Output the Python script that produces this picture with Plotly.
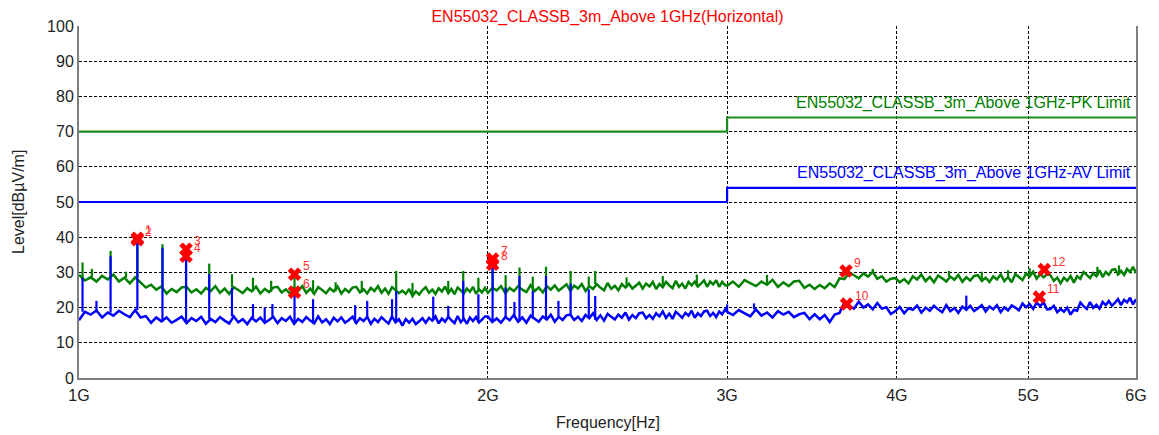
import numpy as np
import plotly.graph_objects as go

# ---------------- data ----------------
title_text = "EN55032_CLASSB_3m_Above 1GHz(Horizontal)"
tick_freq_hz = [1e9, 2e9, 3e9, 4e9, 5e9, 6e9]
tick_text = ["1G", "2G", "3G", "4G", "5G", "6G"]

# limit lines (frequency MHz, level)
limit_f_mhz = [1000, 3000, 3000, 6000]
pk_limit = [70, 70, 74, 74]
av_limit = [50, 50, 54, 54]
pk_limit_name = "EN55032_CLASSB_3m_Above 1GHz-PK Limit"
av_limit_name = "EN55032_CLASSB_3m_Above 1GHz-AV Limit"

# sweep segments: (start MHz, step MHz)
seg_a = (1000, 10)
seg_b = (2000, 15)
seg_c = (3000, 30)

pk_a = [29.3, 27.7, 28.6, 27.4, 29.0, 28.0, 29.4, 27.4, 28.5, 26.9,
        28.6, 27.2, 25.7, 26.5, 25.1, 26.0, 24.0, 25.3, 24.4, 25.7,
        25.9, 24.3, 25.2, 24.0, 25.6, 24.7, 26.1, 24.2, 25.4, 23.9,
        25.8, 25.0, 24.1, 25.5, 24.6, 26.0, 24.0, 25.3, 24.4, 25.7,
        25.9, 24.3, 25.2, 24.0, 25.6, 24.7, 26.1, 24.2, 25.4, 23.9,
        25.8, 25.0, 24.1, 25.5, 24.6, 26.0, 24.0, 25.3, 24.4, 25.7,
        25.9, 24.3, 25.2, 24.0, 25.6, 24.7, 26.1, 24.2, 25.4, 23.9,
        25.8, 25.0, 24.1, 24.8, 23.9, 25.3, 23.3, 24.6, 23.7, 25.0,
        25.8, 24.2, 25.1, 23.9, 25.5, 24.6, 26.0, 24.1, 25.3, 23.8,
        25.7, 24.9, 24.0, 25.4, 24.5, 25.9, 23.9, 25.2, 24.3, 25.6]
pk_b = [24.2, 25.6, 24.9, 26.1, 24.1, 25.6, 24.7, 26.1, 25.1, 24.4,
        26.4, 24.7, 25.7, 24.3, 26.1, 25.1, 26.3, 24.8, 25.6, 26.6,
        24.8, 26.2, 25.4, 26.7, 24.7, 26.1, 25.3, 26.7, 25.7, 24.9,
        27.0, 25.3, 26.2, 24.9, 26.7, 25.7, 26.8, 25.4, 26.2, 27.1,
        25.4, 26.8, 26.0, 27.3, 25.3, 26.7, 25.8, 27.3, 26.3, 25.5,
        27.6, 25.9, 26.8, 25.4, 27.3, 26.3, 27.4, 26.0, 26.8, 27.7,
        25.9, 27.4, 26.6, 27.8, 25.9, 27.3, 26.4]
pk_c = [26.2, 27.4, 25.9, 27.8, 27.0, 26.1, 27.4, 26.5, 27.9, 25.9,
        27.2, 26.1, 27.4, 27.6, 25.6, 26.5, 25.3, 26.4, 25.5, 26.9,
        25.8, 28.3, 28.1, 30.0, 29.2, 28.3, 29.7, 28.8, 30.2, 28.2,
        28.9, 27.4, 28.2, 28.4, 27.2, 28.1, 26.9, 28.9, 28.0, 29.4,
        27.5, 28.7, 27.2, 29.1, 28.3, 27.4, 28.8, 27.9, 29.3, 27.3,
        28.6, 27.7, 29.0, 29.2, 27.6, 28.5, 27.3, 28.9, 28.0, 29.4,
        27.5, 28.7, 27.2, 29.5, 28.7, 27.8, 29.7, 28.8, 30.2, 28.2,
        29.5, 28.6, 29.5, 29.2, 27.6, 28.5, 26.9, 28.5, 27.6, 29.0,
        27.1, 28.9, 28.2, 30.1, 29.3, 28.4, 29.8, 28.9, 30.6, 28.7,
        30.1, 29.3, 30.7, 30.9, 29.4, 30.4, 29.3, 31.0, 30.1, 31.6,
        29.8]

av_a = [16.4, 18.8, 18.0, 19.2, 17.2, 18.6, 17.7, 19.1, 18.1, 17.3,
        19.3, 17.2, 17.6, 15.7, 17.2, 16.1, 17.2, 15.7, 16.5, 17.4,
        15.6, 17.0, 16.2, 17.4, 15.4, 16.8, 15.9, 17.3, 16.3, 15.5,
        17.5, 15.8, 16.7, 15.3, 17.1, 16.1, 17.2, 15.7, 16.5, 17.4,
        15.6, 17.0, 16.2, 17.4, 15.4, 16.8, 15.9, 17.3, 16.3, 15.5,
        17.5, 15.8, 16.7, 15.3, 17.1, 16.1, 17.2, 15.7, 16.5, 17.4,
        15.6, 17.0, 16.2, 17.4, 15.4, 16.8, 15.9, 17.3, 16.3, 15.5,
        17.5, 15.8, 16.7, 14.9, 16.7, 15.7, 16.8, 15.3, 16.1, 17.0,
        15.7, 17.1, 16.3, 17.5, 15.5, 16.9, 16.0, 17.4, 16.4, 15.6,
        17.6, 15.9, 16.8, 15.4, 17.2, 16.2, 17.3, 15.8, 16.6, 17.5]
av_b = [17.5, 15.9, 16.9, 15.7, 17.3, 16.4, 17.9, 16.0, 17.2, 15.7,
        17.7, 16.9, 16.0, 17.5, 16.6, 18.0, 16.0, 17.4, 16.5, 17.8,
        18.0, 16.5, 17.4, 16.2, 17.9, 17.0, 18.4, 16.5, 17.8, 16.3,
        18.2, 17.4, 16.6, 18.0, 17.1, 18.6, 16.6, 17.9, 17.0, 18.4,
        18.6, 17.0, 17.9, 16.8, 18.4, 17.5, 18.9, 17.1, 18.3, 16.8,
        18.8, 18.0, 17.1, 18.5, 17.7, 19.1, 17.1, 18.4, 17.6, 18.9,
        19.1, 17.6, 18.5, 17.3, 18.9, 18.1, 19.5]
av_c = [18.8, 17.9, 19.3, 18.3, 17.5, 19.5, 17.7, 18.6, 17.2, 19.0,
        18.0, 18.8, 17.3, 18.1, 18.5, 16.7, 18.1, 16.7, 17.9, 15.9,
        18.0, 18.5, 21.5, 20.5, 19.7, 21.7, 20.0, 20.9, 19.5, 21.3,
        19.7, 20.1, 18.2, 19.0, 20.2, 18.4, 19.8, 19.4, 20.6, 18.6,
        20.0, 19.1, 20.5, 19.5, 18.7, 20.7, 19.0, 19.9, 18.5, 20.3,
        19.4, 20.5, 19.0, 19.8, 20.7, 18.9, 20.3, 19.5, 20.7, 18.7,
        20.1, 19.2, 20.6, 20.0, 19.2, 21.2, 20.1, 21.0, 19.6, 21.4,
        20.4, 21.5, 19.5, 19.6, 20.5, 18.7, 19.6, 18.8, 20.0, 18.0,
        19.4, 19.1, 21.4, 20.4, 19.6, 21.6, 19.9, 20.8, 19.7, 21.6,
        20.7, 21.9, 20.5, 21.4, 22.4, 20.7, 22.2, 21.5, 22.8, 20.9,
        22.4]

# narrow emissions (frequency MHz, peak level)
pk_spike_f = [1006, 1022, 1055, 1083, 1104, 1152, 1199, 1247, 1296, 1343,
              1385, 1441, 1487, 1545, 1615, 1712, 1760, 1870, 1918, 1968,
              2016, 2061, 2110, 2158, 2207, 2301, 2373, 2399, 2530, 2690,
              2850, 3210, 3840, 4370, 4620, 4830, 5010, 5620, 5830]
pk_spike_lvl = [32.8, 31.0, 36.1, 30.2, 39.8, 38.0, 36.8, 32.5, 29.5, 28.5,
                27.6, 29.5, 27.8, 27.2, 27.6, 30.4, 27.0, 27.6, 30.4, 28.5,
                33.8, 29.2, 31.4, 28.8, 31.6, 30.4, 28.8, 30.4, 28.6, 29.0,
                29.4, 29.3, 31.0, 30.4, 30.2, 30.6, 31.2, 31.6, 32.0]
av_spike_f = [1006, 1030, 1055, 1104, 1152, 1199, 1247, 1296, 1343, 1370,
              1388, 1441, 1487, 1597, 1630, 1700, 1712, 1823, 1870, 1918,
              1968, 2016, 2061, 2092, 2110, 2158, 2207, 2254, 2301, 2373,
              2399, 3000, 3140, 4500]
av_spike_lvl = [28.5, 21.9, 34.6, 38.9, 37.0, 34.0, 29.5, 25.7, 21.0, 20.0,
                21.0, 24.5, 22.4, 20.7, 21.9, 22.4, 24.7, 23.1, 20.5, 27.6,
                23.8, 31.2, 25.7, 21.6, 29.0, 24.7, 29.0, 21.9, 26.8, 25.2,
                23.3, 20.9, 21.2, 23.4]

# marked points
mark_no = ["1", "2", "3", "4", "5", "6", "7", "8", "9", "10", "11", "12"]
mark_f_mhz = [1104, 1104, 1199, 1199, 1441, 1441, 2016, 2016, 3670, 3674, 5093, 5136]
mark_lvl = [39.7, 39.3, 36.6, 34.6, 29.5, 24.4, 33.8, 32.3, 30.4, 21.0, 23.0, 30.8]

# ---------------- build ----------------
def seg_freqs(seg, vals):
    start, step = seg
    return [start + step * i for i in range(len(vals))]

pk_f = seg_freqs(seg_a, pk_a) + seg_freqs(seg_b, pk_b) + seg_freqs(seg_c, pk_c)
pk_v = pk_a + pk_b + pk_c
av_f = seg_freqs(seg_a, av_a) + seg_freqs(seg_b, av_b) + seg_freqs(seg_c, av_c)
av_v = av_a + av_b + av_c


def spike_segments(base_f, base_v, sf, sv):
    fa = np.array(base_f, dtype=float)
    xs, ys = [], []
    for f, p in zip(sf, sv):
        i = int(np.argmin(np.abs(fa - f)))
        xs += [f * 1e6, f * 1e6, None]
        ys += [base_v[i], p, None]
    return xs, ys


GREEN = "#008000"
GREEN_LIM = "#1E8C1E"
BLUE = "#0000FF"
RED = "#FF0000"
FONT = "Arial, 'Liberation Sans', sans-serif"
TXT = "#222222"

fig = go.Figure()
fig.add_trace(go.Scatter(x=[f * 1e6 for f in limit_f_mhz], y=pk_limit, mode="lines",
                         line=dict(color=GREEN_LIM, width=2.2), name=pk_limit_name))
fig.add_trace(go.Scatter(x=[f * 1e6 for f in limit_f_mhz], y=av_limit, mode="lines",
                         line=dict(color=BLUE, width=2.2), name=av_limit_name))

fig.add_trace(go.Scatter(x=[f * 1e6 for f in pk_f], y=pk_v, mode="lines",
                         line=dict(color=GREEN, width=2.5), name="PK"))
sx, sy = spike_segments(pk_f, pk_v, pk_spike_f, pk_spike_lvl)
fig.add_trace(go.Scatter(x=sx, y=sy, mode="lines", line=dict(color=GREEN, width=2.2),
                         name="PK spikes"))

fig.add_trace(go.Scatter(x=[f * 1e6 for f in av_f], y=av_v, mode="lines",
                         line=dict(color=BLUE, width=2.5), name="AV"))
sx, sy = spike_segments(av_f, av_v, av_spike_f, av_spike_lvl)
fig.add_trace(go.Scatter(x=sx, y=sy, mode="lines", line=dict(color=BLUE, width=2.2),
                         name="AV spikes"))

fig.add_trace(go.Scatter(x=[f * 1e6 for f in mark_f_mhz], y=mark_lvl, mode="markers",
                         marker=dict(symbol="x", size=12, color=RED, line=dict(width=0)),
                         name="Markers"))

annotations = []
for n, f, v in zip(mark_no, mark_f_mhz, mark_lvl):
    annotations.append(dict(x=np.log10(f * 1e6), y=v, xref="x", yref="y", text=n,
                            showarrow=False, xanchor="left", yanchor="middle",
                            xshift=6, yshift=8,
                            font=dict(family=FONT, size=12, color="#FF3030")))

annotations.append(dict(x=1, y=pk_limit[-1], xref="paper", yref="y", text=pk_limit_name,
                        showarrow=False, xanchor="right", yanchor="middle",
                        xshift=-3, yshift=15,
                        font=dict(family=FONT, size=16, color=GREEN)))
annotations.append(dict(x=1, y=av_limit[-1], xref="paper", yref="y", text=av_limit_name,
                        showarrow=False, xanchor="right", yanchor="middle",
                        xshift=-3, yshift=15,
                        font=dict(family=FONT, size=16, color=BLUE)))
annotations.append(dict(x=0.5, y=0, xref="paper", yref="paper", text="Frequency[Hz]",
                        showarrow=False, xanchor="center", yanchor="middle", yshift=-44,
                        font=dict(family=FONT, size=16, color=TXT)))
annotations.append(dict(x=0, y=0.5, xref="paper", yref="paper", text="Level[dBµV/m]",
                        showarrow=False, xanchor="center", yanchor="middle", xshift=-61,
                        textangle=-90,
                        font=dict(family=FONT, size=16, color=TXT)))

grid = dict(showgrid=True, gridcolor="#000000", gridwidth=1, griddash="3px,2px")

fig.update_layout(
    width=1159, height=435,
    margin=dict(l=79, r=18, t=26, b=57),
    paper_bgcolor="white", plot_bgcolor="white",
    showlegend=False,
    font=dict(family=FONT, size=16, color=TXT),
    title=dict(text=title_text, x=0.5, xref="paper", xanchor="center",
               y=1 - 16 / 435, yref="container", yanchor="middle",
               font=dict(family=FONT, size=16, color=RED)),
    annotations=annotations,
    xaxis=dict(type="log", range=[9, np.log10(6e9)], tickvals=tick_freq_hz,
               ticktext=tick_text, ticks="", ticklabelstandoff=2,
               showline=True, linecolor="#808080", linewidth=2, mirror=False,
               zeroline=False, tickfont=dict(size=16, color=TXT), **grid),
    yaxis=dict(range=[0, 100], tickvals=list(range(0, 101, 10)), ticks="",
               ticklabelstandoff=0,
               showline=True, linecolor="#808080", linewidth=2, mirror=True,
               zeroline=False, tickfont=dict(size=16, color=TXT), **grid),
)

fig.write_html("out.html", config={"displayModeBar": False},
               post_script="document.body.style.margin='0';document.body.style.overflow='hidden';")
